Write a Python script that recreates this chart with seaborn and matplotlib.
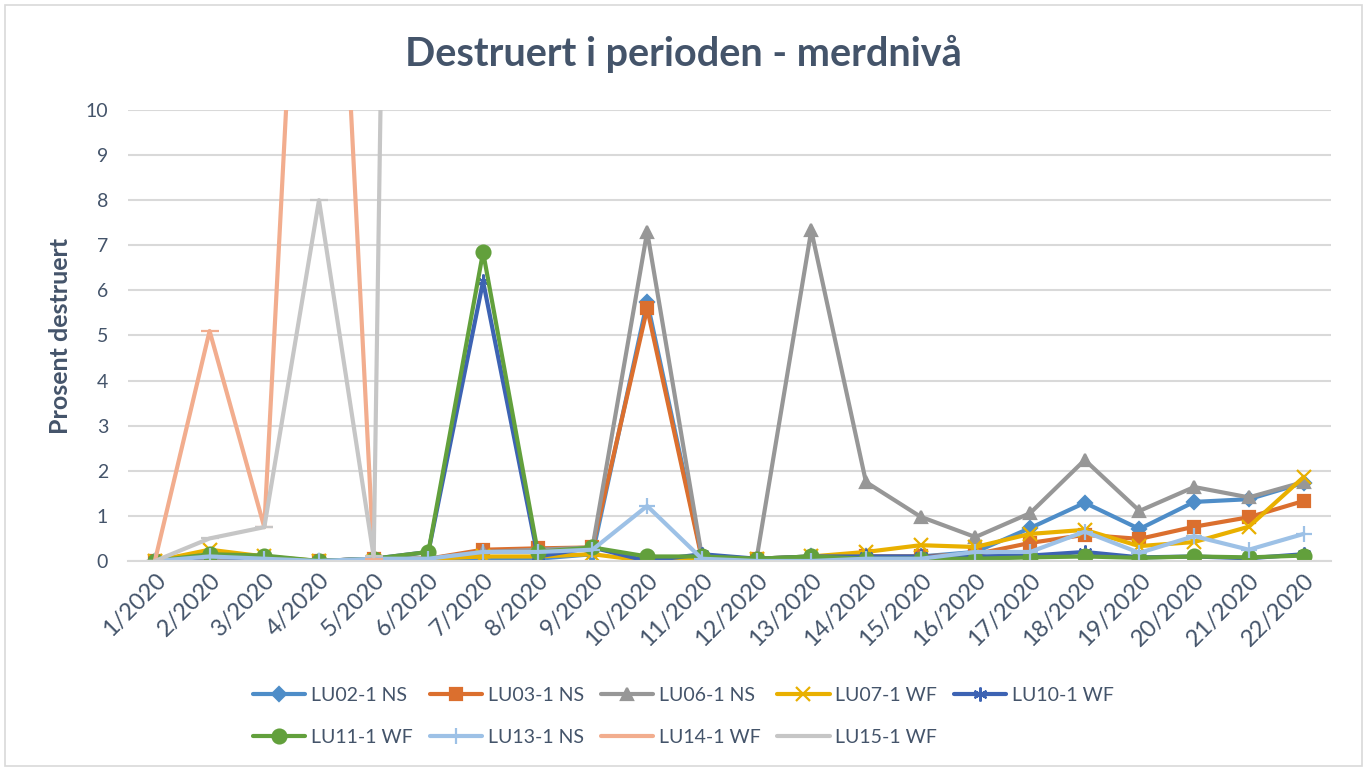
import numpy as np
import pandas as pd
import seaborn as sns
import matplotlib.pyplot as plt
from matplotlib.patches import Rectangle

# Data
periods = [f'{i}/2020' for i in range(1, 23)]

lu02 = [0.0, 0.1, 0.05, 0.0, 0.05, 0.05, 0.02, 0.05, 0.15, 5.75, 0.1, 0.05, 0.1, 0.1, 0.1, 0.2, 0.73, 1.29, 0.71, 1.31, 1.37, 1.73]
lu03 = [0.0, 0.05, 0.0, 0.0, 0.05, 0.05, 0.25, 0.28, 0.3, 5.6, 0.05, 0.05, 0.0, 0.1, 0.1, 0.15, 0.4, 0.58, 0.49, 0.76, 0.97, 1.33]
lu06 = [0.0, 0.05, 0.0, 0.0, 0.05, 0.05, 0.2, 0.25, 0.3, 7.3, 0.1, 0.05, 7.33, 1.75, 0.98, 0.53, 1.06, 2.24, 1.11, 1.64, 1.41, 1.75]
lu07 = [0.0, 0.25, 0.1, 0.0, 0.0, 0.05, 0.1, 0.1, 0.15, 0.0, 0.05, 0.05, 0.1, 0.2, 0.35, 0.31, 0.6, 0.69, 0.33, 0.42, 0.76, 1.86]
lu10 = [0.0, 0.1, 0.05, 0.0, 0.05, 0.2, 6.2, 0.1, 0.3, 0.0, 0.15, 0.05, 0.1, 0.1, 0.1, 0.1, 0.12, 0.2, 0.08, 0.1, 0.06, 0.15]
lu11 = [0.0, 0.15, 0.12, 0.0, 0.05, 0.2, 6.85, 0.2, 0.3, 0.1, 0.1, 0.05, 0.1, 0.05, 0.05, 0.05, 0.08, 0.1, 0.07, 0.1, 0.08, 0.12]
lu13 = [0.0, 0.1, 0.05, 0.0, 0.05, 0.05, 0.2, 0.2, 0.25, 1.22, 0.05, 0.0, 0.0, 0.05, 0.05, 0.2, 0.2, 0.65, 0.18, 0.55, 0.25, 0.6]
lu14 = [0.0, 5.1, 0.75, 24.0, 0.05] + [np.nan] * 17
lu15 = [0.0, 0.5, 0.75, 8.0, 0.1, 80.0] + [np.nan] * 16

series = {
    'LU02-1 NS': lu02, 'LU03-1 NS': lu03, 'LU06-1 NS': lu06,
    'LU07-1 WF': lu07, 'LU10-1 WF': lu10, 'LU11-1 WF': lu11,
    'LU13-1 NS': lu13, 'LU14-1 WF': lu14, 'LU15-1 WF': lu15,
}
colors = ['#4E8DC8', '#DB6F2E', '#979797', '#E9B000', '#3D63B3',
          '#62A03C', '#9DC1E6', '#F2AD8E', '#C6C6C6']
markers = ['D', 's', '^', 'x', (6, 2, 0), 'o', '+', '_', '_']
msizes = [7, 9, 9, 10, 10, 10, 12, 13, 13]

TXT = '#44546A'
sns.set_style('white')
plt.rcParams['font.family'] = ['Lato', 'DejaVu Sans']

fig = plt.figure(figsize=(13.67, 7.69), dpi=100)
ax = fig.add_axes([0.0933, 0.2705, 0.8803, 0.5865])

x = np.arange(len(periods))
for (name, vals), c, m, ms in zip(series.items(), colors, markers, msizes):
    sns.lineplot(x=x, y=vals, ax=ax, color=c, marker=m, markersize=ms,
                 markeredgecolor=c, markeredgewidth=1.6, linewidth=3,
                 label=name, legend=False)

ax.set_xlim(-0.5, len(periods) - 0.5)
ax.set_ylim(0, 10)
ax.set_yticks(range(0, 11))
ax.set_xticks(x)
ax.set_xticklabels(periods, rotation=45, ha='right', rotation_mode='anchor',
                   fontsize=17, color=TXT)
ax.tick_params(axis='y', labelsize=14, labelcolor=TXT, length=0, pad=14)
ax.tick_params(axis='x', length=0, pad=6)
ax.set_xticks(np.arange(-0.5, len(periods), 1), minor=True)
ax.tick_params(axis='x', which='minor', length=5, color='#D9D9D9', width=1.2)
ax.grid(axis='y', color='#D9D9D9', linewidth=1.5)
ax.grid(axis='x', visible=False)
for s in ['top', 'right', 'left']:
    ax.spines[s].set_visible(False)
ax.spines['bottom'].set_color('#D9D9D9')
ax.spines['bottom'].set_linewidth(1.5)

ax.set_ylabel('Prosent destruert', fontsize=18, fontweight='bold', color=TXT, labelpad=10)
fig.suptitle('Destruert i perioden - merdnivå', fontsize=28.5, fontweight='bold',
             color=TXT, y=0.955)

# legend filled row by row (matplotlib fills column by column)
handles, labels = ax.get_legend_handles_labels()
order = [0, 5, 1, 6, 2, 7, 3, 8, 4]
leg = fig.legend([handles[i] for i in order], [labels[i] for i in order],
                 loc='lower center', bbox_to_anchor=(0.5, 0.007),
                 ncol=5, frameon=False, fontsize=14, labelcolor=TXT,
                 handlelength=2.7, columnspacing=0.85, labelspacing=1.3,
                 handletextpad=0.3)

fig.patches.append(Rectangle((0.004, 0.004), 0.992, 0.99, transform=fig.transFigure,
                             fill=False, edgecolor='#D9D9D9', linewidth=1.2))

fig.savefig('out.png', dpi=100)
